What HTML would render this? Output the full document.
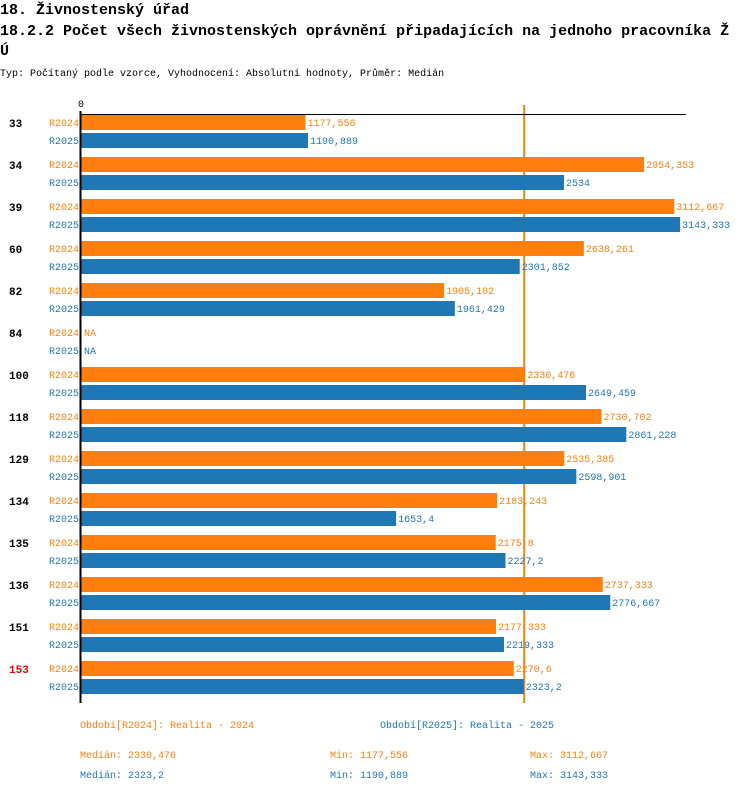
<!DOCTYPE html>
<html><head><meta charset="utf-8"><style>
body{margin:0;background:#fff;width:750px;height:792px;overflow:hidden;font-family:"Liberation Mono",monospace}
svg text{font-family:"Liberation Mono",monospace}
</style></head><body>
<svg id="c" width="750" height="792" xmlns="http://www.w3.org/2000/svg">
<text x="0" y="14" font-size="15" font-weight="bold">18. Živnostenský úřad</text>
<text x="0" y="35" font-size="15" font-weight="bold">18.2.2 Počet všech živnostenských oprávnění připadajících na jednoho pracovníka Ž</text>
<text x="0" y="55" font-size="15" font-weight="bold">Ú</text>
<text x="0" y="76" font-size="10">Typ: Počítaný podle vzorce, Vyhodnocení: Absolutní hodnoty, Průměr: Medián</text>
<text x="78" y="107" font-size="10">0</text>
<line id="med" x1="0" y1="105" x2="0" y2="703" stroke="#ff7f0e" stroke-width="2"/>
<g id="bars"></g>
<line x1="80" y1="114.5" x2="686" y2="114.5" stroke="#000" stroke-width="1"/>
<line x1="80.5" y1="111" x2="80.5" y2="703" stroke="#000" stroke-width="2"/>
<text x="80" y="728" font-size="10" fill="#ff7f0e">Období[R2024]: Realita - 2024</text>
<text x="380" y="728" font-size="10" fill="#1f77b4">Období[R2025]: Realita - 2025</text>
<text x="80" y="758" font-size="10" fill="#ff7f0e">Medián: 2330,476</text>
<text x="330" y="758" font-size="10" fill="#ff7f0e">Min: 1177,556</text>
<text x="530" y="758" font-size="10" fill="#ff7f0e">Max: 3112,667</text>
<text x="80" y="778" font-size="10" fill="#1f77b4">Medián: 2323,2</text>
<text x="330" y="778" font-size="10" fill="#1f77b4">Min: 1190,889</text>
<text x="530" y="778" font-size="10" fill="#1f77b4">Max: 3143,333</text>
</svg>
<script>
const categories=["33","34","39","60","82","84","100","118","129","134","135","136","151","153"];
const r2024=[1177.556,2954.353,3112.667,2638.261,1905.102,null,2330.476,2730.702,2535.385,2183.243,2175.8,2737.333,2177.333,2270.6];
const r2025=[1190.889,2534,3143.333,2301.852,1961.429,null,2649.459,2861.228,2598.901,1653.4,2227.2,2776.667,2219.333,2323.2];
const seriesNames=["R2024","R2025"];
const medianValue=2330.476;
const NS="http://www.w3.org/2000/svg";
const X0=81,SC=0.1906;
const xs=v=>X0+v*SC;
const yg=i=>115+42*i;
const fmt=v=>v===null?"NA":String(v).replace(".",",");
const g=document.getElementById("bars");
function mk(t,a){const e=document.createElementNS(NS,t);for(const k in a)e.setAttribute(k,a[k]);g.appendChild(e);return e;}
categories.forEach((c,i)=>{
  const t=mk("text",{x:9,y:yg(i)+12,"font-size":11,"font-weight":"bold",fill:c==="153"?"#e00":"#000"});
  t.textContent=c;
  
  
  [r2024,r2025].forEach((arr,s)=>{
    const col=s?"#1f77b4":"#ff7f0e";
    const y=yg(i)+s*18;const v=arr[i];
    const l=mk("text",{x:79,y:y+11,"font-size":10,fill:col,"text-anchor":"end"});
    l.textContent=seriesNames[s];
    
    
    let end=X0+2;
    if(v!==null){
      const r=mk("rect",{x:X0,y:y,width:xs(v)-X0,height:15,fill:col});
      
      
      end=xs(v)+1;
    }
    const vt=mk("text",{x:end+1,y:y+11,"font-size":10,fill:col});
    vt.textContent=fmt(v);
    
    
  });
});
const m=document.getElementById("med");m.setAttribute("x1",xs(medianValue)-1);m.setAttribute("x2",xs(medianValue)-1);
</script>
</body></html>
